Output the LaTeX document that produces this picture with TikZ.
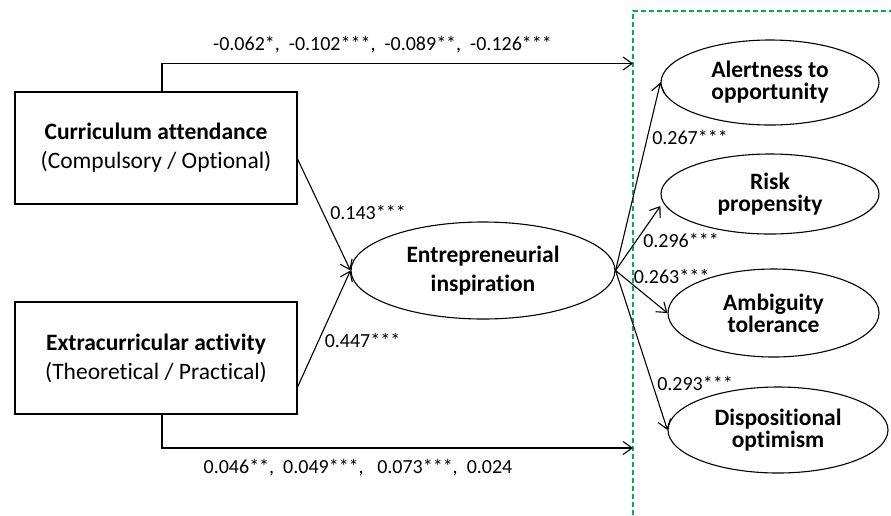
\documentclass[tikz,border=0pt]{standalone}
\usepackage{fontspec}
\setmainfont{Carlito}[Ligatures=CommonOff]
\usetikzlibrary{shapes.geometric, arrows.meta, positioning, calc}
\definecolor{grpgreen}{RGB}{0,176,80}
\tikzset{
  obs/.style={rectangle, draw, line width=1.1pt, minimum width=282pt,
              minimum height=112pt, align=center, inner sep=0pt,
              font=\fontsize{23.5}{29}\selectfont},
  lat/.style={ellipse, draw, line width=1.1pt, inner sep=0pt,
              align=center, font=\fontsize{23.5}{29}\selectfont\bfseries},
  dv/.style={lat, font=\fontsize{23.5}{22}\selectfont\bfseries},
  coef/.style={inner sep=0pt, font=\fontsize{20}{22}\selectfont},
  arr/.style={-{Straight Barb[length=9pt, width=13pt]}, line width=1.1pt},
  grp/.style={color=grpgreen, dash pattern=on 5pt off 3pt, line width=1.2pt},
}

\begin{document}
\begin{tikzpicture}[x=1pt, y=-1pt]
  \useasboundingbox (0,0) rectangle (891,515);
  \node[obs] (curr) at (156,148)
    {\textbf{Curriculum attendance}\\(Compulsory / Optional)};
  \node[obs] (extra) at (156,358)
    {\textbf{Extracurricular activity}\\(Theoretical / Practical)};
  \node[lat, minimum width=264pt, minimum height=97pt] (insp) at (483,270.5)
    {Entrepreneurial\\inspiration};
  \node[dv, minimum width=218pt, minimum height=85pt] (alert) at (770,82.5)
    {Alertness to\\opportunity};
  \node[dv, minimum width=218pt, minimum height=80pt] (risk) at (770,194)
    {Risk\\propensity};
  \node[dv, minimum width=211pt, minimum height=88pt] (ambig) at (773.5,313)
    {Ambiguity\\tolerance};
  \node[dv, minimum width=220pt, minimum height=86pt] (disp) at (778,430)
    {Dispositional\\optimism};
  \coordinate (topend) at (633,63.5);
  \coordinate (botend) at (633,448);
  \draw[grp] (633,515) -- (633,11) -- (891,11);
  \draw[arr] ([xshift=6pt]curr.north) |- (topend);
  \draw[arr] ([xshift=6pt]extra.south) |- (botend);
  \draw[arr] ([yshift=-11pt]curr.east) -- (insp.west);
  \draw[arr] ([yshift=-29pt]extra.east) -- (insp.west);
  \draw[arr] (insp.east) -- (alert.west);
  \draw[arr] (insp.east) -- ([yshift=-12pt]risk.west);
  \draw[arr] (insp.east) -- (ambig.west);
  \draw[arr] (insp.east) -- (disp.west);
  \node[coef] (ctop) at (382.5,45) {-0.062*, \ -0.102***, \ -0.089**, \ -0.126***};
  \node[coef] (cbot) at (358,468) {0.046**, \ 0.049***, \ \ 0.073***, \ 0.024};
  \node[coef] (c1) at (368,212) {0.143***};
  \node[coef] (c2) at (362.5,340) {0.447***};
  \node[coef] (c3) at (690,137) {0.267***};
  \node[coef] (c4) at (681,240) {0.296***};
  \node[coef] (c5) at (671.5,276) {0.263***};
  \node[coef] (c6) at (695,383) {0.293***};
\end{tikzpicture}
\end{document}
